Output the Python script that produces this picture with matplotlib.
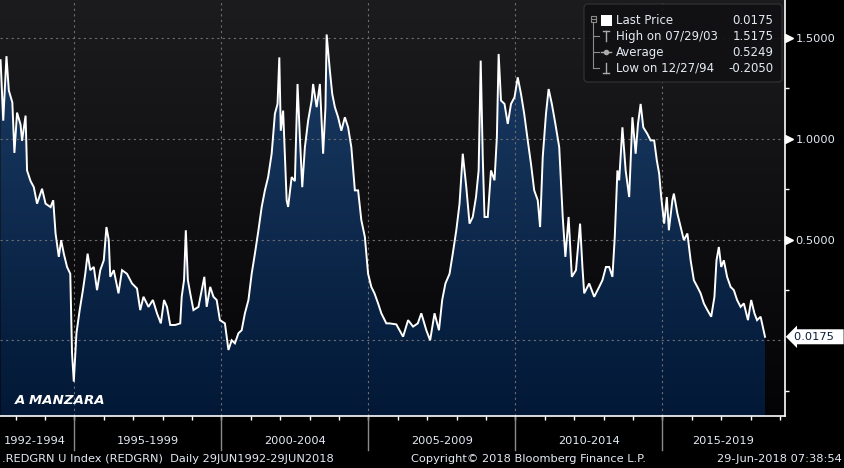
import numpy as np
import matplotlib
matplotlib.use("Agg")
import matplotlib.pyplot as plt
import matplotlib.transforms as mtransforms
from matplotlib.patches import FancyBboxPatch, Rectangle
from matplotlib.lines import Line2D
from matplotlib.colors import LinearSegmentedColormap

# REDGRN U Index (decimal year, value)
t_92_99 = [1992.49, 1992.58, 1992.69, 1992.77, 1992.89, 1992.96, 1993.05, 1993.17, 1993.22, 1993.34,
           1993.39, 1993.51, 1993.62, 1993.73, 1993.90, 1994.02, 1994.19, 1994.28, 1994.36, 1994.47,
           1994.55, 1994.64, 1994.75, 1994.86, 1994.92, 1994.98, 1995.07, 1995.18, 1995.29, 1995.37,
           1995.45, 1995.54, 1995.66, 1995.77, 1995.88, 1996.00, 1996.09, 1996.17, 1996.22, 1996.34,
           1996.50, 1996.62, 1996.79, 1996.96, 1997.13, 1997.24, 1997.35, 1997.52, 1997.67, 1997.81,
           1997.94, 1998.05, 1998.15, 1998.26, 1998.43, 1998.60, 1998.65, 1998.73, 1998.79, 1998.86,
           1998.94, 1999.05]
v_92_99 = [1.39, 1.09, 1.41, 1.24, 1.18, 0.93, 1.13, 1.07, 0.99, 1.115,
           0.843, 0.79, 0.76, 0.678, 0.752, 0.678, 0.661, 0.695, 0.53, 0.414,
           0.497, 0.43, 0.364, 0.33, -0.064, -0.205, 0.035, 0.15, 0.249, 0.33,
           0.43, 0.348, 0.364, 0.249, 0.348, 0.397, 0.562, 0.497, 0.315, 0.348,
           0.233, 0.348, 0.33, 0.282, 0.257, 0.15, 0.216, 0.166, 0.2, 0.134,
           0.084, 0.2, 0.166, 0.076, 0.076, 0.084, 0.216, 0.299, 0.546, 0.299,
           0.233, 0.15]

t_99_05 = [1999.22, 1999.33, 1999.42, 1999.50, 1999.62, 1999.73, 1999.84, 1999.95,
           2000.12, 2000.24, 2000.35, 2000.46, 2000.58, 2000.69, 2000.80, 2000.92,
           2001.03, 2001.14, 2001.26, 2001.37, 2001.48, 2001.59, 2001.71, 2001.82, 2001.91, 2001.97,
           2002.02, 2002.10, 2002.22, 2002.27, 2002.39, 2002.50, 2002.59, 2002.67, 2002.75, 2002.84, 2002.95,
           2003.07, 2003.12, 2003.24, 2003.35, 2003.46, 2003.54, 2003.58, 2003.69, 2003.77, 2003.86, 2003.97,
           2004.08, 2004.20, 2004.31, 2004.42, 2004.54, 2004.65, 2004.76, 2004.88, 2004.99,
           2005.10, 2005.21, 2005.33, 2005.44, 2005.61]
v_99_05 = [0.166, 0.249, 0.315, 0.166, 0.265, 0.216, 0.2, 0.1,
           0.084, -0.048, 0.0, -0.015, 0.035, 0.05, 0.134, 0.2,
           0.33, 0.43, 0.546, 0.661, 0.744, 0.81, 0.926, 1.124, 1.173, 1.404,
           1.04, 1.14, 0.695, 0.662, 0.81, 0.79, 1.272, 1.008, 0.76, 0.958, 1.09,
           1.19, 1.272, 1.157, 1.272, 0.926, 1.157, 1.5175, 1.338, 1.223, 1.157, 1.107,
           1.04, 1.107, 1.057, 0.958, 0.744, 0.744, 0.596, 0.513, 0.33,
           0.265, 0.232, 0.183, 0.134, 0.084]

t_05_12 = [2005.72, 2005.95,
           2006.18, 2006.35, 2006.52, 2006.68, 2006.80, 2006.97,
           2007.10, 2007.25, 2007.40, 2007.51, 2007.62, 2007.76, 2007.87, 2007.99,
           2008.10, 2008.21, 2008.33, 2008.44, 2008.55, 2008.66, 2008.75, 2008.82, 2008.89, 2008.95,
           2009.06, 2009.17, 2009.29, 2009.37, 2009.43, 2009.51, 2009.63, 2009.74, 2009.85, 2009.97,
           2010.08, 2010.19, 2010.30, 2010.42, 2010.53, 2010.64, 2010.76, 2010.84, 2010.93,
           2011.04, 2011.13, 2011.24, 2011.36, 2011.49, 2011.61, 2011.70, 2011.81, 2011.92,
           2012.06, 2012.20, 2012.28]
v_05_12 = [0.084, 0.079,
           0.018, 0.1, 0.068, 0.084, 0.134, 0.05,
           0.0, 0.134, 0.05, 0.2, 0.282, 0.33, 0.43, 0.546,
           0.678, 0.926, 0.76, 0.579, 0.612, 0.711, 0.843, 1.388, 0.909, 0.612,
           0.612, 0.843, 0.794, 1.008, 1.421, 1.19, 1.173, 1.074, 1.173, 1.206,
           1.305, 1.223, 1.124, 0.992, 0.876, 0.744, 0.695, 0.562, 0.909,
           1.124, 1.247, 1.173, 1.074, 0.959, 0.612, 0.414, 0.612, 0.315,
           0.348, 0.579, 0.364]

t_12_18 = [2012.34, 2012.51, 2012.68, 2012.85, 2012.96,
           2013.08, 2013.19, 2013.30, 2013.38, 2013.47, 2013.53, 2013.64, 2013.75, 2013.87, 2013.98,
           2014.09, 2014.17, 2014.26, 2014.35, 2014.49, 2014.60, 2014.72, 2014.81, 2014.89, 2014.96,
           2015.06, 2015.15, 2015.22, 2015.34, 2015.39, 2015.51, 2015.62, 2015.73, 2015.85, 2015.96,
           2016.07, 2016.19, 2016.30, 2016.41, 2016.53, 2016.66, 2016.77, 2016.84, 2016.92,
           2017.00, 2017.09, 2017.20, 2017.32, 2017.43, 2017.54, 2017.66, 2017.77, 2017.91,
           2018.02, 2018.13, 2018.22, 2018.34, 2018.49]
v_12_18 = [0.233, 0.282, 0.216, 0.265, 0.298,
           0.364, 0.364, 0.315, 0.513, 0.843, 0.794, 1.057, 0.843, 0.711, 1.107,
           0.926, 1.074, 1.173, 1.057, 1.024, 0.992, 0.992, 0.893, 0.827, 0.711,
           0.579, 0.711, 0.546, 0.695, 0.728, 0.629, 0.563, 0.497, 0.53, 0.397,
           0.298, 0.265, 0.233, 0.183, 0.15, 0.117, 0.216, 0.397, 0.463,
           0.364, 0.397, 0.315, 0.265, 0.249, 0.2, 0.166, 0.183, 0.1,
           0.2, 0.134, 0.1, 0.117, 0.0175]

period_labels = ["1992-1994", "1995-1999", "2000-2004", "2005-2009", "2010-2014", "2015-2019"]
period_centers = [1993.65, 1997.5, 2002.5, 2007.5, 2012.5, 2017.08]
period_starts = [1995, 2000, 2005, 2010, 2015]
grid_y = [0.0, 0.5, 1.0, 1.5]
label_y = [0.5, 1.0, 1.5]
minor_y = [-0.25, 0.25, 0.75, 1.25]

legend_names = ["Last Price", "High on 07/29/03", "Average", "Low on 12/27/94"]
legend_values = ["0.0175", "1.5175", "0.5249", "-0.2050"]
last_price = 0.0175

t = np.array(t_92_99 + t_99_05 + t_05_12 + t_12_18)
v = np.array(v_92_99 + v_99_05 + v_05_12 + v_12_18)

W, H = 844, 468
FONT = "DejaVu Sans"
TXT = "#e4eaf4"

fig = plt.figure(figsize=(W / 100, H / 100), dpi=100, facecolor="black")
ax = fig.add_axes([0, 52 / H, 785 / W, 416 / H])
x0, x1 = 1992.47, 2019.17
y0, y1 = -0.3757, 1.6888

# background gradient in the plot area
grad = np.linspace(0, 1, 256).reshape(-1, 1)
bg_cmap = LinearSegmentedColormap.from_list("bg", ["#040406", "#1c1c1e"])
ax.imshow(grad, extent=[0, 1, 0, 1], transform=ax.transAxes, cmap=bg_cmap,
          aspect="auto", origin="lower", zorder=0)

# navy gradient under the line
fill = ax.fill_between(t, v, y0, facecolor="none", edgecolor="none")
fill_cmap = LinearSegmentedColormap.from_list("fill", ["#021836", "#1d3f69"])
im = ax.imshow(grad, extent=[x0, x1, y0, y1], cmap=fill_cmap,
               aspect="auto", origin="lower", zorder=1)
im.set_clip_path(fill.get_paths()[0], transform=ax.transData)

for gy in grid_y:
    ax.axhline(gy, color="#6e6e72", lw=0.8, ls=(0, (2, 3)), zorder=2)
for gx in period_starts:
    ax.axvline(gx, color="#6e6e72", lw=0.8, ls=(0, (2, 3)), zorder=2)

ax.plot(t, v, color="white", lw=1.4, zorder=3, solid_joinstyle="miter")

ax.set_xlim(x0, x1)
ax.set_ylim(y0, y1)
ax.set_facecolor("black")
for s in ["top", "left"]:
    ax.spines[s].set_visible(False)
for s in ["bottom", "right"]:
    ax.spines[s].set_color("white")
    ax.spines[s].set_linewidth(1.2)

ax.set_xticks(range(1993, 2020))
ax.set_xticklabels([])
ax.tick_params(axis="x", colors="white", length=3, width=1)

ax.yaxis.tick_right()
ax.set_yticks(label_y)
ax.set_yticklabels(["%.4f" % y for y in label_y], fontsize=8.2, color=TXT, family=FONT)
ax.set_yticks(minor_y, minor=True)
ax.tick_params(axis="y", which="major", length=0, pad=7.5)
ax.tick_params(axis="y", which="minor", length=3, width=1, color="white")

bl = mtransforms.blended_transform_factory(ax.transAxes, ax.transData)
ax.plot([1 + 3.5 / 785] * len(label_y), label_y, ls="none", marker=">", ms=5.5,
        color="white", transform=bl, clip_on=False)

ax.text(1 + 9 / 785, last_price, "0.0175  ", transform=bl, va="center", ha="left",
        fontsize=8.2, color="#0a1a3a", family=FONT,
        bbox=dict(boxstyle="larrow,pad=0.22", fc="white", ec="none"))

# period separators and labels under the axis
bx = mtransforms.blended_transform_factory(ax.transData, ax.transAxes)
for gx in period_starts:
    ax.plot([gx, gx], [0, -34 / 416], color="#8a8a8a", lw=1, transform=bx, clip_on=False)
for lab, c in zip(period_labels, period_centers):
    ax.text(c, -(441.5 - 416) / 416, lab, transform=bx, ha="center", va="center",
            fontsize=8.2, color=TXT, family=FONT)

ax.text(1992.47 + 15 / 29.4, y0 + 15.5 / 201.5, "A MANZARA", ha="left", va="center",
        fontsize=9.6, color="white", weight="bold", style="italic", family=FONT, zorder=5)

# pixel transform (origin top-left) for the legend panel and footer
pix = mtransforms.Affine2D().scale(1, -1).translate(0, H)

fig.text(2, 459.5, ".REDGRN U Index (REDGRN)  Daily 29JUN1992-29JUN2018", transform=pix,
         ha="left", va="center", fontsize=8.2, color=TXT, family=FONT)
fig.text(528, 459.5, "Copyright\u00a9 2018 Bloomberg Finance L.P.", transform=pix,
         ha="center", va="center", fontsize=8.2, color=TXT, family=FONT)
fig.text(842, 459.5, "29-Jun-2018 07:38:54", transform=pix,
         ha="right", va="center", fontsize=8.2, color=TXT, family=FONT)

panel = FancyBboxPatch((584, 4), 198, 78, boxstyle="round,pad=0,rounding_size=4",
                       transform=pix, fc="#111113", ec="#303033", lw=1, alpha=0.92, zorder=6)
fig.add_artist(panel)

row_y = [20.7, 36.3, 52.3, 68.3]
gray = "#8c8c8c"
fig.add_artist(Rectangle((590.5, 16), 5.5, 5.5, transform=pix, fc="none", ec=gray, lw=0.8, zorder=7))
fig.add_artist(Line2D([591.8, 594.8], [18.8, 18.8], transform=pix, color=gray, lw=0.8, zorder=7))
fig.add_artist(Line2D([593.2, 593.2], [21.5, row_y[3]], transform=pix, color=gray, lw=0.8, zorder=7))
for ry in row_y[1:]:
    fig.add_artist(Line2D([593.2, 599], [ry, ry], transform=pix, color=gray, lw=0.8, zorder=7))
fig.add_artist(Rectangle((600.7, 15.2), 11, 11, transform=pix, fc="white", ec="none", zorder=7))
# high marker
fig.add_artist(Line2D([603, 609], [31, 31], transform=pix, color="#aaaaaa", lw=1, zorder=7))
fig.add_artist(Line2D([606, 606], [31, 41], transform=pix, color="#aaaaaa", lw=1, zorder=7))
# average marker
fig.add_artist(Line2D([601, 611], [52.3, 52.3], transform=pix, color="#aaaaaa", lw=1, zorder=7))
fig.add_artist(Line2D([606], [52.3], transform=pix, color="#aaaaaa", marker="o", ms=3, zorder=7))
# low marker
fig.add_artist(Line2D([606, 606], [63, 72.5], transform=pix, color="#aaaaaa", lw=1, zorder=7))
fig.add_artist(Line2D([603, 609], [72.5, 72.5], transform=pix, color="#aaaaaa", lw=1, zorder=7))

for name, val, ry in zip(legend_names, legend_values, row_y):
    fig.text(616, ry, name, transform=pix, ha="left", va="center", fontsize=8.5,
             color=TXT, family=FONT, zorder=8)
    fig.text(773.5, ry, val, transform=pix, ha="right", va="center", fontsize=8.5,
             color=TXT, family=FONT, zorder=8)

fig.savefig("out.png", dpi=100, facecolor="black")
